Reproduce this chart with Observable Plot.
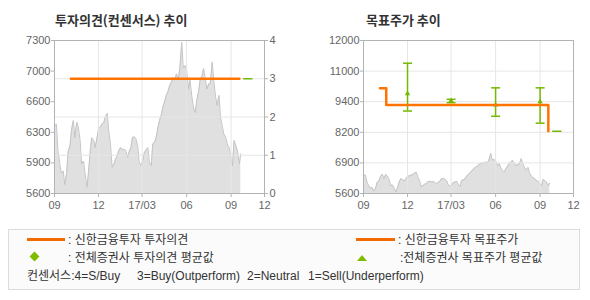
<!DOCTYPE html>
<html><head><meta charset="utf-8">
<script src="https://cdn.jsdelivr.net/npm/d3@7"></script>
<script src="https://cdn.jsdelivr.net/npm/@observablehq/plot@0.6"></script>
<style>
body{margin:0;background:#fff;width:590px;height:300px;position:relative;overflow:hidden;font-family:"Liberation Sans","Noto Sans CJK KR",sans-serif;}
.abs{position:absolute;}
.chart svg{position:absolute;left:0;top:0;}
.title{font-family:"Noto Sans CJK KR",sans-serif;font-weight:bold;font-size:13px;color:#333;line-height:16px;white-space:nowrap;}
.lg{font-size:12px;color:#333;line-height:14px;white-space:nowrap;}
</style></head><body>
<div class="abs title" style="left:55px;top:12px">투자의견(컨센서스) 추이</div>
<div class="abs title" style="left:366px;top:12px">목표주가 추이</div>
<div id="left" class="abs chart" style="left:0;top:0;width:295px;height:215px"></div>
<div id="right" class="abs chart" style="left:300px;top:0;width:290px;height:215px"></div>
<div id="legend" class="abs" style="left:8px;top:229px;width:570px;height:59px;border:1px solid #dcdcdc;background:#fbfbfb"></div>
<div class="abs" style="left:27px;top:238px;width:38px;height:2.5px;background:#f26a00"></div>
<div class="abs lg" style="left:68px;top:233px">: 신한금융투자 투자의견</div>
<div class="abs" style="left:31px;top:253px;width:7px;height:7px;background:#7fbc00;transform:rotate(45deg)"></div>
<div class="abs lg" style="left:68px;top:251px">: 전체증권사 투자의견 평균값</div>
<div class="abs lg" style="left:27px;top:269px">컨센서스:4=S/Buy</div>
<div class="abs lg" style="left:137px;top:269px">3=Buy(Outperform)</div>
<div class="abs lg" style="left:247px;top:269px">2=Neutral</div>
<div class="abs lg" style="left:308px;top:269px">1=Sell(Underperform)</div>
<div class="abs" style="left:356px;top:238px;width:39px;height:2.5px;background:#f26a00"></div>
<div class="abs lg" style="left:398px;top:233px">: 신한금융투자 목표주가</div>
<svg class="abs" style="left:356px;top:253px" width="12" height="9"><polygon points="1,8 6,2 11,8" fill="#7fbc00"/></svg>
<div class="abs lg" style="left:400px;top:251px">:전체증권사 목표주가 평균값</div>
<script>
const priceDates = [
"2016-09-01","2016-09-05","2016-09-08","2016-09-12","2016-09-15","2016-09-19","2016-09-22","2016-09-26","2016-09-29",
"2016-10-03","2016-10-06","2016-10-10","2016-10-13","2016-10-17","2016-10-20","2016-10-24","2016-10-27","2016-10-31",
"2016-11-03","2016-11-07","2016-11-10","2016-11-14","2016-11-17","2016-11-21","2016-11-24","2016-11-28",
"2016-12-01","2016-12-05","2016-12-08","2016-12-12","2016-12-15","2016-12-19","2016-12-22","2016-12-26","2016-12-29",
"2017-01-02","2017-01-05","2017-01-09","2017-01-12","2017-01-16","2017-01-19","2017-01-23","2017-01-26","2017-01-30",
"2017-02-02","2017-02-06","2017-02-09","2017-02-13","2017-02-16","2017-02-20","2017-02-23","2017-02-27",
"2017-03-02","2017-03-06","2017-03-09","2017-03-13","2017-03-16","2017-03-20","2017-03-23","2017-03-27","2017-03-30",
"2017-04-03","2017-04-06","2017-04-10","2017-04-13","2017-04-17","2017-04-20","2017-04-24","2017-04-27",
"2017-05-01","2017-05-04","2017-05-08","2017-05-11","2017-05-15","2017-05-18","2017-05-22","2017-05-25","2017-05-29",
"2017-06-01","2017-06-05","2017-06-08","2017-06-12","2017-06-15","2017-06-19","2017-06-22","2017-06-26","2017-06-29",
"2017-07-03","2017-07-06","2017-07-10","2017-07-13","2017-07-17","2017-07-20","2017-07-24","2017-07-27","2017-07-31",
"2017-08-03","2017-08-07","2017-08-10","2017-08-14","2017-08-17","2017-08-21","2017-08-24","2017-08-28","2017-08-31",
"2017-09-04","2017-09-07","2017-09-11","2017-09-14","2017-09-18","2017-09-21"];
const prices = [
6350,6370,6080,5930,5830,5850,5700,5820,6060,6130,
6300,6410,6220,6390,6340,6190,5930,5960,5830,5670,
5820,6080,6220,6190,6110,6220,6320,6340,6370,6390,
6450,6490,6300,6130,5890,5930,5980,6020,6080,6110,
6090,6090,6080,6000,6060,6110,6220,6230,6210,6130,
5950,5910,5960,6060,6080,6110,5950,5910,6150,6170,
6220,6340,6410,6480,6560,6630,6690,6740,6800,6840,
6890,6860,6930,6870,6990,7280,7000,7020,6970,6760,
6860,6670,6560,6500,6630,6740,6860,6910,6990,6860,
6760,6820,6820,7060,6860,6670,6580,6690,6450,6340,
6260,6220,6150,6110,6020,5910,6190,6130,6080,5930,6040];

const xDomain = ["2016-09-01","2017-11-09"];
const xTickDates = ["2016-09-01","2016-12-01","2017-03-01","2017-06-01","2017-09-01","2017-11-09"];
const xTickLabels = ["09","12","17/03","06","09","12"];

const opinionDates = ["2016-10-05","2017-09-18"];
const opinionValues = [3,3];
const consensusOpinionDates = ["2017-09-27","2017-10-14"];
const consensusOpinionValues = [3,3];
const opinionTicks = [0,1,2,3,4];
const leftPriceTicks = [5600,5940,6280,6620,6960,7300];
const leftPriceTickLabels = ["5600","5900","6300","6600","7000","7300"];

const targetDates = ["2016-10-05","2016-10-18","2017-09-18"];
const targetValues = [10000,9300,8200];
const consensusTargetDates = ["2017-09-27","2017-10-14"];
const consensusTargetValues = [8200,8200];
const rangeDates = ["2016-12-01","2017-03-01","2017-06-01","2017-09-01"];
const rangeHigh = [11050,9540,10020,10020];
const rangeLow = [9050,9400,8830,8540];
const rangeAvg = [9780,9480,9300,9440];
const rightPriceTicks = [5600,6880,8160,9440,10720,12000];
const rightPriceTickLabels = ["5600","6900","8200","9400","11000","12000"];

const ORANGE = "#ff7300", GREEN = "#74b800", GRID = "#e6e6e6", FRAME = "#b3b3b3", AREA = "#e0e0e0", AREA_LINE = "#c4c4c4", TEXT = "#666";
const D = s => new Date(s);
const priceData = priceDates.map((d,i)=>({date:D(d), price:prices[i]}));
const opinionData = opinionDates.map((d,i)=>({date:D(d), v:opinionValues[i]}));
const consOpData = consensusOpinionDates.map((d,i)=>({date:D(d), v:consensusOpinionValues[i]}));
const targetData = targetDates.map((d,i)=>({date:D(d), v:targetValues[i]}));
const consTgData = consensusTargetDates.map((d,i)=>({date:D(d), v:consensusTargetValues[i]}));
const rangeData = rangeDates.map((d,i)=>({date:D(d), high:rangeHigh[i], low:rangeLow[i], avg:rangeAvg[i]}));
const xTicks = xTickDates.map(D);
const xLabel = new Map(xTicks.map((d,i)=>[+d, xTickLabels[i]]));
const leftLabel = new Map(leftPriceTicks.map((v,i)=>[v, leftPriceTickLabels[i]]));
const rightLabel = new Map(rightPriceTicks.map((v,i)=>[v, rightPriceTickLabels[i]]));

const baseStyle = {background:"transparent", fontSize:"11px", fontFamily:"Liberation Sans, sans-serif", overflow:"visible"};
const xScale = {type:"utc", domain:xDomain.map(D), label:null};
const axisX = () => Plot.axisX({ticks:xTicks, tickFormat:d=>xLabel.get(+d), tickSize:4, tickPadding:4, stroke:FRAME, fill:TEXT, label:null});

// Left chart: price layer
const leftBottom = Plot.plot({
  width:295, height:215, marginLeft:54, marginRight:31, marginTop:40, marginBottom:22,
  style:baseStyle, x:xScale, y:{domain:[5600,7300], label:null},
  marks:[
    Plot.areaY(priceData,{x:"date", y:"price", fill:AREA, clip:true}),
    Plot.lineY(priceData,{x:"date", y:"price", stroke:AREA_LINE, strokeWidth:1, clip:true}),
    Plot.axisY({ticks:leftPriceTicks, tickFormat:d=>leftLabel.get(d), tickSize:3, tickPadding:1, stroke:FRAME, fill:TEXT, label:null}),
    axisX()
  ]
});
// Left chart: opinion layer
const leftTop = Plot.plot({
  width:295, height:215, marginLeft:54, marginRight:31, marginTop:40, marginBottom:22,
  style:baseStyle, x:{...xScale, axis:null}, y:{domain:[0,4], label:null},
  marks:[
    Plot.ruleY(opinionTicks,{stroke:GRID}),
    Plot.ruleX(xTicks,{stroke:GRID}),
    Plot.line(opinionData,{x:"date", y:"v", stroke:ORANGE, strokeWidth:2.5}),
    Plot.line(consOpData,{x:"date", y:"v", stroke:GREEN, strokeWidth:1.5}),
    Plot.axisY({anchor:"right", ticks:opinionTicks, tickFormat:d=>String(d), tickSize:3, tickPadding:2, stroke:FRAME, fill:TEXT, label:null}),
    Plot.frame({stroke:FRAME})
  ]
});
document.getElementById("left").append(leftBottom, leftTop);

// Right chart
const capSymbol = {draw(ctx){ ctx.moveTo(-4.5,0); ctx.lineTo(4.5,0); }};
const right = Plot.plot({
  width:290, height:215, marginLeft:63, marginRight:17, marginTop:40, marginBottom:22,
  style:baseStyle, x:xScale, y:{domain:[5600,12000], label:null},
  marks:[
    Plot.areaY(priceData,{x:"date", y:"price", fill:AREA, clip:true}),
    Plot.lineY(priceData,{x:"date", y:"price", stroke:AREA_LINE, strokeWidth:1, clip:true}),
    Plot.ruleY(rightPriceTicks,{stroke:GRID}),
    Plot.ruleX(xTicks,{stroke:GRID}),
    Plot.ruleX(rangeData,{x:"date", y1:"low", y2:"high", stroke:GREEN, strokeWidth:1.5}),
    Plot.dot(rangeData,{x:"date", y:"high", symbol:capSymbol, stroke:GREEN, fill:"none", strokeWidth:1.5, r:3}),
    Plot.dot(rangeData,{x:"date", y:"low", symbol:capSymbol, stroke:GREEN, fill:"none", strokeWidth:1.5, r:3}),
    Plot.dot(rangeData,{x:"date", y:"avg", symbol:"triangle", fill:GREEN, stroke:"none", r:2}),
    Plot.line(targetData,{x:"date", y:"v", curve:"step-after", stroke:ORANGE, strokeWidth:2.5}),
    Plot.line(consTgData,{x:"date", y:"v", stroke:GREEN, strokeWidth:1.5}),
    Plot.axisY({ticks:rightPriceTicks, tickFormat:d=>rightLabel.get(d), tickSize:3, tickPadding:1, stroke:FRAME, fill:TEXT, label:null}),
    axisX(),
    Plot.frame({stroke:FRAME})
  ]
});
document.getElementById("right").append(right);
</script>
</body></html>
